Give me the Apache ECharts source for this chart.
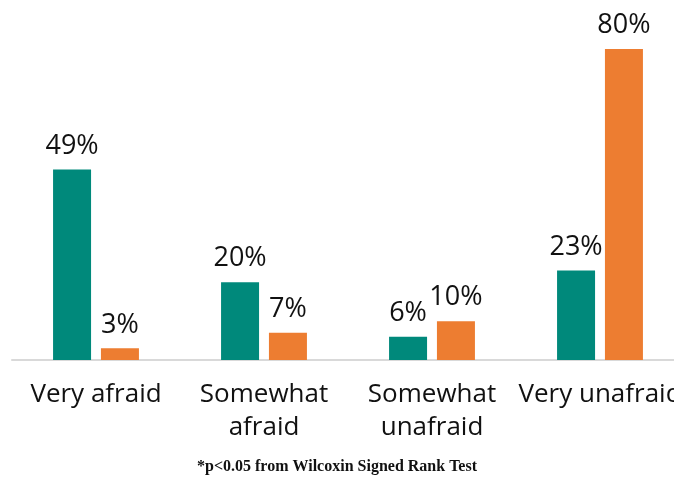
<!DOCTYPE html>
<html>
<head>
<meta charset="UTF-8">
<title>Fear ratings</title>
<script src="https://cdn.jsdelivr.net/npm/echarts@6/dist/echarts.min.js"></script>
<style>
  html, body { margin: 0; padding: 0; background: #fff; }
  #chart { width: 674px; height: 478px; }
</style>
</head>
<body>
<div id="chart"></div>
<script>
    // data
    var categories = ['Very afraid', 'Somewhat\nafraid', 'Somewhat\nunafraid', 'Very unafraid'];
    var tealValues = [49, 20, 6, 23];
    var orangeValues = [3, 7, 10, 80];
    var footnote = '*p<0.05 from Wilcoxin Signed Rank Test';

    var chart = echarts.init(document.getElementById('chart'));

    var labelStyle = {
        show: true,
        position: 'top',
        distance: 10,
        formatter: '{c}%',
        color: '#111',
        fontSize: 27,
        fontFamily: 'Open Sans'
    };

    var option = {
        backgroundColor: '#fff',
        animation: false,
        // plot runs past the right edge, like the cropped original
        grid: {
            left: 12, right: -10, top: 49, bottom: 118,
            containLabel: false,
            outerBoundsMode: 'none'
        },
        xAxis: {
            type: 'category',
            data: categories,
            axisLine: { lineStyle: { color: '#d9d9d9', width: 2 } },
            axisTick: { show: false },
            axisLabel: {
                color: '#111',
                fontSize: 26,
                fontFamily: 'Open Sans',
                lineHeight: 33,
                margin: 18,
                interval: 0,
                hideOverlap: false
            }
        },
        yAxis: {
            type: 'value',
            min: 0,
            max: 80,
            show: false,
            splitLine: { show: false }
        },
        series: [
            {
                type: 'bar',
                data: tealValues,
                barWidth: 38,
                barGap: '26%',
                itemStyle: { color: '#00897b' },
                label: labelStyle
            },
            {
                type: 'bar',
                data: orangeValues,
                barWidth: 38,
                itemStyle: { color: '#ed7d31' },
                label: labelStyle
            }
        ],
        graphic: [{
            type: 'text',
            left: 'center',
            top: 459,
            style: {
                text: footnote,
                fill: '#111',
                font: 'bold 16px "Liberation Serif"'
            }
        }]
    };

    chart.setOption(option);
</script>
</body>
</html>
